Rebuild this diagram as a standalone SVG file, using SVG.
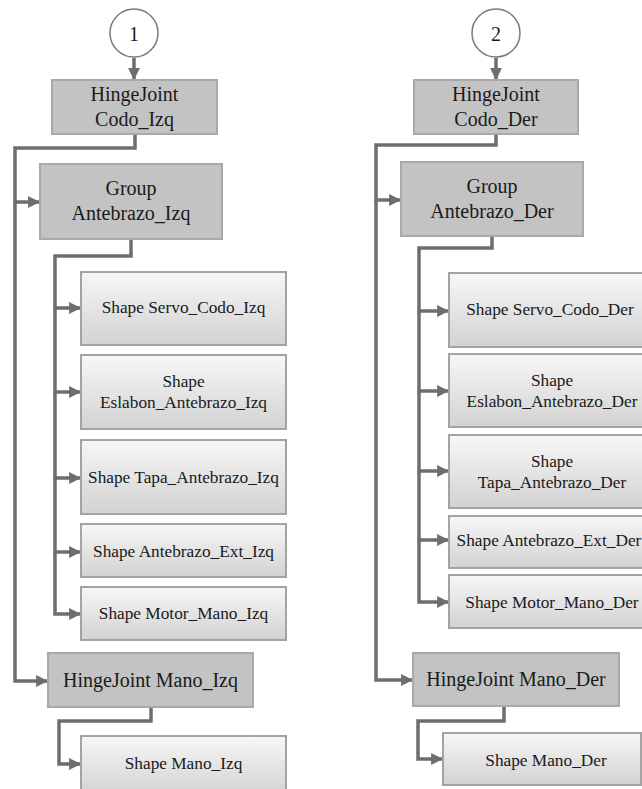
<svg xmlns="http://www.w3.org/2000/svg" width="642" height="789" viewBox="0 0 642 789">
<defs>
<linearGradient id="sg" x1="0" y1="0" x2="0" y2="1">
<stop offset="0" stop-color="#f7f7f7"/>
<stop offset="1" stop-color="#d2d2d2"/>
</linearGradient>
<marker id="ah" viewBox="0 0 10 10" refX="10" refY="5" markerWidth="3.4" markerHeight="3.4" markerUnits="strokeWidth" orient="auto">
<path d="M0,0 L10,5 L0,10 z" fill="#6e6e6e"/>
</marker>
<style>
.g{fill:#c3c3c3;stroke:#a9a9a9;stroke-width:2}
.s{fill:url(#sg);stroke:#a3a3a3;stroke-width:2}
.c{fill:#fff;stroke:#7a7a7a;stroke-width:1.5}
text{font-family:'Times New Roman','Liberation Serif','Noto Serif','DejaVu Serif',serif;fill:#1a1a1a;text-anchor:middle}
.tg{font-size:20px}
.ts{font-size:17.3px}
.l{fill:none;stroke:#6e6e6e;stroke-width:3.5;marker-end:url(#ah)}
</style>
</defs>
<rect width="642" height="789" fill="#fff"/>
<g id="connectors">
<path class="l" d="M134,58 V80"/>
<path class="l" d="M135,134 V148 H15 V202 H40"/>
<path class="l" d="M15,202 V681 H48"/>
<path class="l" d="M131,239 V256 H55 V308 H81"/>
<path class="l" d="M55,308 V392 H81"/>
<path class="l" d="M55,392 V478 H81"/>
<path class="l" d="M55,478 V552 H81"/>
<path class="l" d="M55,552 V614 H81"/>
<path class="l" d="M151,707 V721 H59 V764 H81"/>
<path class="l" d="M496,58 V80"/>
<path class="l" d="M496,134 V145 H376 V200 H401"/>
<path class="l" d="M376,200 V680 H413"/>
<path class="l" d="M492,236 V248 H419 V311 H449"/>
<path class="l" d="M419,311 V391 H449"/>
<path class="l" d="M419,391 V471 H449"/>
<path class="l" d="M419,471 V540 H449"/>
<path class="l" d="M419,540 V602 H449"/>
<path class="l" d="M504,706 V721 H418 V759 H443"/>
</g>
<g id="n1"><circle class="c" cx="134" cy="33" r="24"/><text class="tg" x="134" y="41">1</text></g>
<g id="hjCodoIzq"><rect class="g" x="52" y="80" width="165" height="54"/><text class="tg" x="134.5" y="101">HingeJoint</text><text class="tg" x="134.5" y="126">Codo_Izq</text></g>
<g id="grpAnteIzq"><rect class="g" x="40" y="164" width="182" height="75"/><text class="tg" x="131" y="195">Group</text><text class="tg" x="131" y="220">Antebrazo_Izq</text></g>
<g id="servoIzq"><rect class="s" x="81" y="272" width="205" height="73"/><text class="ts" x="183.5" y="313">Shape Servo_Codo_Izq</text></g>
<g id="eslIzq"><rect class="s" x="81" y="355" width="205" height="74"/><text class="ts" x="183.5" y="387">Shape</text><text class="ts" x="183.5" y="408">Eslabon_Antebrazo_Izq</text></g>
<g id="tapaIzq"><rect class="s" x="81" y="440" width="205" height="74"/><text class="ts" x="183.5" y="483">Shape Tapa_Antebrazo_Izq</text></g>
<g id="extIzq"><rect class="s" x="81" y="524" width="205" height="53"/><text class="ts" x="183.5" y="557">Shape Antebrazo_Ext_Izq</text></g>
<g id="motorIzq"><rect class="s" x="81" y="587" width="205" height="53"/><text class="ts" x="183.5" y="619">Shape Motor_Mano_Izq</text></g>
<g id="hjManoIzq"><rect class="g" x="48" y="653" width="205" height="54"/><text class="tg" x="150.5" y="687">HingeJoint Mano_Izq</text></g>
<g id="manoIzq"><rect class="s" x="81" y="736" width="205" height="60"/><text class="ts" x="183.5" y="769">Shape Mano_Izq</text></g>
<g id="n2"><circle class="c" cx="496" cy="33" r="24"/><text class="tg" x="496" y="41">2</text></g>
<g id="hjCodoDer"><rect class="g" x="414" y="80" width="164" height="54"/><text class="tg" x="496" y="101">HingeJoint</text><text class="tg" x="496" y="126">Codo_Der</text></g>
<g id="grpAnteDer"><rect class="g" x="401" y="162" width="182" height="74"/><text class="tg" x="492" y="193">Group</text><text class="tg" x="492" y="218">Antebrazo_Der</text></g>
<g id="servoDer"><rect class="s" x="449" y="273" width="205" height="74"/><text class="ts" x="550" y="315">Shape Servo_Codo_Der</text></g>
<g id="eslDer"><rect class="s" x="449" y="354" width="205" height="73"/><text class="ts" x="552" y="386">Shape</text><text class="ts" x="552" y="407">Eslabon_Antebrazo_Der</text></g>
<g id="tapaDer"><rect class="s" x="449" y="435" width="205" height="73"/><text class="ts" x="552" y="467">Shape</text><text class="ts" x="552" y="488">Tapa_Antebrazo_Der</text></g>
<g id="extDer"><rect class="s" x="449" y="516" width="205" height="52"/><text class="ts" x="549" y="546">Shape Antebrazo_Ext_Der</text></g>
<g id="motorDer"><rect class="s" x="449" y="575" width="205" height="53"/><text class="ts" x="552" y="608">Shape Motor_Mano_Der</text></g>
<g id="hjManoDer"><rect class="g" x="413" y="653" width="206" height="53"/><text class="tg" x="516" y="686">HingeJoint Mano_Der</text></g>
<g id="manoDer"><rect class="s" x="443" y="733" width="198" height="52"/><text class="ts" x="546" y="766">Shape Mano_Der</text></g>
</svg>
